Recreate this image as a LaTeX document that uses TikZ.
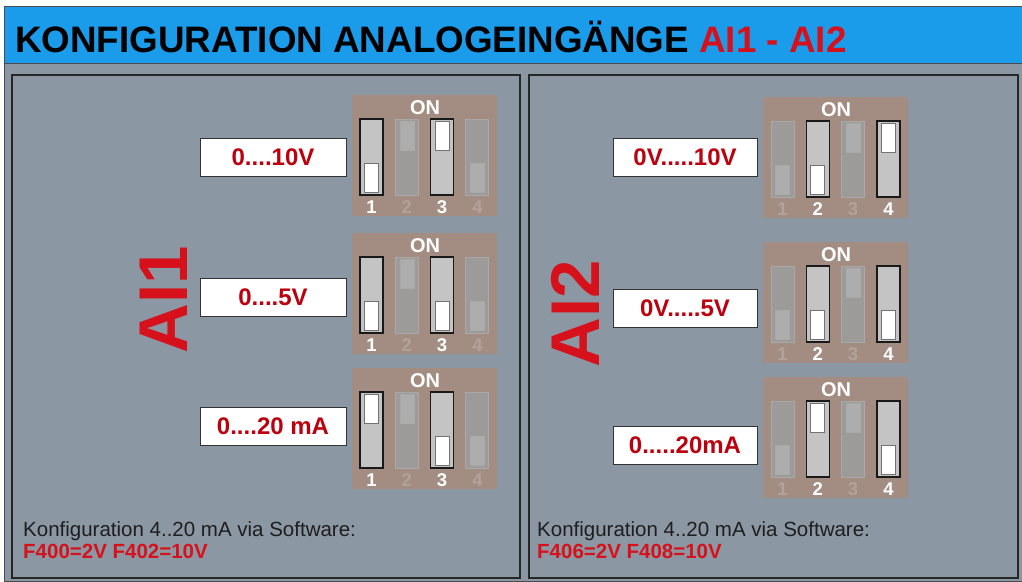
\documentclass[tikz,border=0pt]{standalone}
\usepackage{fontspec}
\setmainfont{Liberation Sans}
\usepackage{xcolor}
\usepackage{tikz}
\definecolor{barblue}{HTML}{1A9CEA}
\definecolor{panelgrey}{HTML}{8B97A3}
\definecolor{dipbrown}{HTML}{A38D82}
\definecolor{titlered}{HTML}{D7111B}
\definecolor{rangered}{HTML}{BC000E}
\definecolor{textdark}{HTML}{1E1E1E}
\definecolor{offslot}{HTML}{9D9B9A}
\definecolor{offedge}{HTML}{ABA9A8}
\definecolor{offknob}{HTML}{AEADAD}
\definecolor{offnum}{HTML}{B3A299}

% one DIP switch block: name, left x, top y, list of switch/state/knob offset
\newcommand{\dipblock}[4]{%
  \fill[dipbrown] (#2,#3) rectangle ++(145,121);
  \node[onlabel] (#1-on) at (#2+73,#3+13) {ON};
  \foreach \n/\act/\kn in {#4} {
    \draw[slot-\act] (#2+8+35.3*\n-35.3,#3+24) rectangle ++(23,76);
    \draw[knob-\act] (#2+12.5+35.3*\n-35.3,#3+24+\kn) rectangle ++(14,29);
    \node[num-\act] (#1-n\n) at (#2+19.5+35.3*\n-35.3,#3+112) {\n};
  }
}

\begin{document}
\begin{tikzpicture}[x=1pt, y=-1pt,
  onlabel/.style={font=\fontsize{20}{20}\selectfont\bfseries, text=white, inner sep=0pt},
  slot-on/.style={fill=black!23, draw=black!90, line width=1.4pt},
  slot-off/.style={fill=offslot, draw=offedge, line width=1pt},
  knob-on/.style={fill=white, draw=black!55, line width=0.8pt},
  knob-off/.style={fill=offknob, draw=offedge, line width=0.6pt},
  num-on/.style={font=\fontsize{18.5}{18.5}\selectfont\bfseries, text=white, inner sep=0pt},
  num-off/.style={font=\fontsize{18.5}{18.5}\selectfont\bfseries, text=offnum, inner sep=0pt},
  rangebox/.style={draw=black!80, fill=white, line width=1pt, minimum height=38pt, inner sep=0pt,
    text=rangered, font=\fontsize{24}{24}\selectfont\bfseries},
  bigai/.style={rotate=90, text=titlered, inner sep=0pt, font=\fontsize{69}{69}\selectfont\bfseries},
  notetext/.style={anchor=base west, inner sep=0pt, text=textdark, font=\fontsize{20.5}{20.5}\selectfont},
  paramtext/.style={anchor=base west, inner sep=0pt, text=titlered, font=\fontsize{20.5}{20.5}\selectfont\bfseries}]
\useasboundingbox (0,0) rectangle (1022,581);
\fill[white] (0,0) rectangle (1022,581);
\fill[panelgrey, draw=black!70, line width=1pt] (4,6) rectangle (1022,581);
\fill[barblue, draw=black!70, line width=1pt] (4,6) rectangle (1022,63);
\node[anchor=base west, inner sep=0pt, font=\fontsize{36.8}{36.8}\selectfont\bfseries, text=black]
  (title) at (15,52) {KONFIGURATION ANALOGEINGÄNGE \textcolor{titlered}{AI1 - AI2}};

% panels
\draw[black!85, line width=1.6pt] (12,75) rectangle (520,578);
\draw[black!85, line width=1.6pt] (529,75) rectangle (1018,578);

% AI1
\node[bigai] (ai1) at (164,300) {AI1};
\node[rangebox, minimum width=146pt] (ai1-10v) at (273,157.5) {0....10V};
\node[rangebox, minimum width=146pt] (ai1-5v) at (273,297.5) {0....5V};
\node[rangebox, minimum width=146pt] (ai1-20ma) at (273,426) {0....20 mA};
\dipblock{ai1-a}{352}{95}{1/on/44, 2/off/2, 3/on/2, 4/off/44}
\dipblock{ai1-b}{352}{233}{1/on/44, 2/off/2, 3/on/44, 4/off/44}
\dipblock{ai1-c}{352}{368}{1/on/2, 2/off/2, 3/on/44, 4/off/44}
\node[notetext] (ai1-note) at (23,536) {Konfiguration 4..20 mA via Software:};
\node[paramtext] (ai1-param) at (23,558) {F400=2V F402=10V};

% AI2
\node[bigai] (ai2) at (575,314) {AI2};
\node[rangebox, minimum width=144pt] (ai2-10v) at (685,157) {0V.....10V};
\node[rangebox, minimum width=144pt] (ai2-5v) at (685,308.5) {0V.....5V};
\node[rangebox, minimum width=144pt] (ai2-20ma) at (685,445) {0.....20mA};
\dipblock{ai2-a}{763}{97}{1/off/44, 2/on/44, 3/off/2, 4/on/2}
\dipblock{ai2-b}{763}{242}{1/off/44, 2/on/44, 3/off/2, 4/on/44}
\dipblock{ai2-c}{763}{377}{1/off/44, 2/on/2, 3/off/2, 4/on/44}
\node[notetext] (ai2-note) at (537,536) {Konfiguration 4..20 mA via Software:};
\node[paramtext] (ai2-param) at (537,558) {F406=2V F408=10V};
\end{tikzpicture}
\end{document}
